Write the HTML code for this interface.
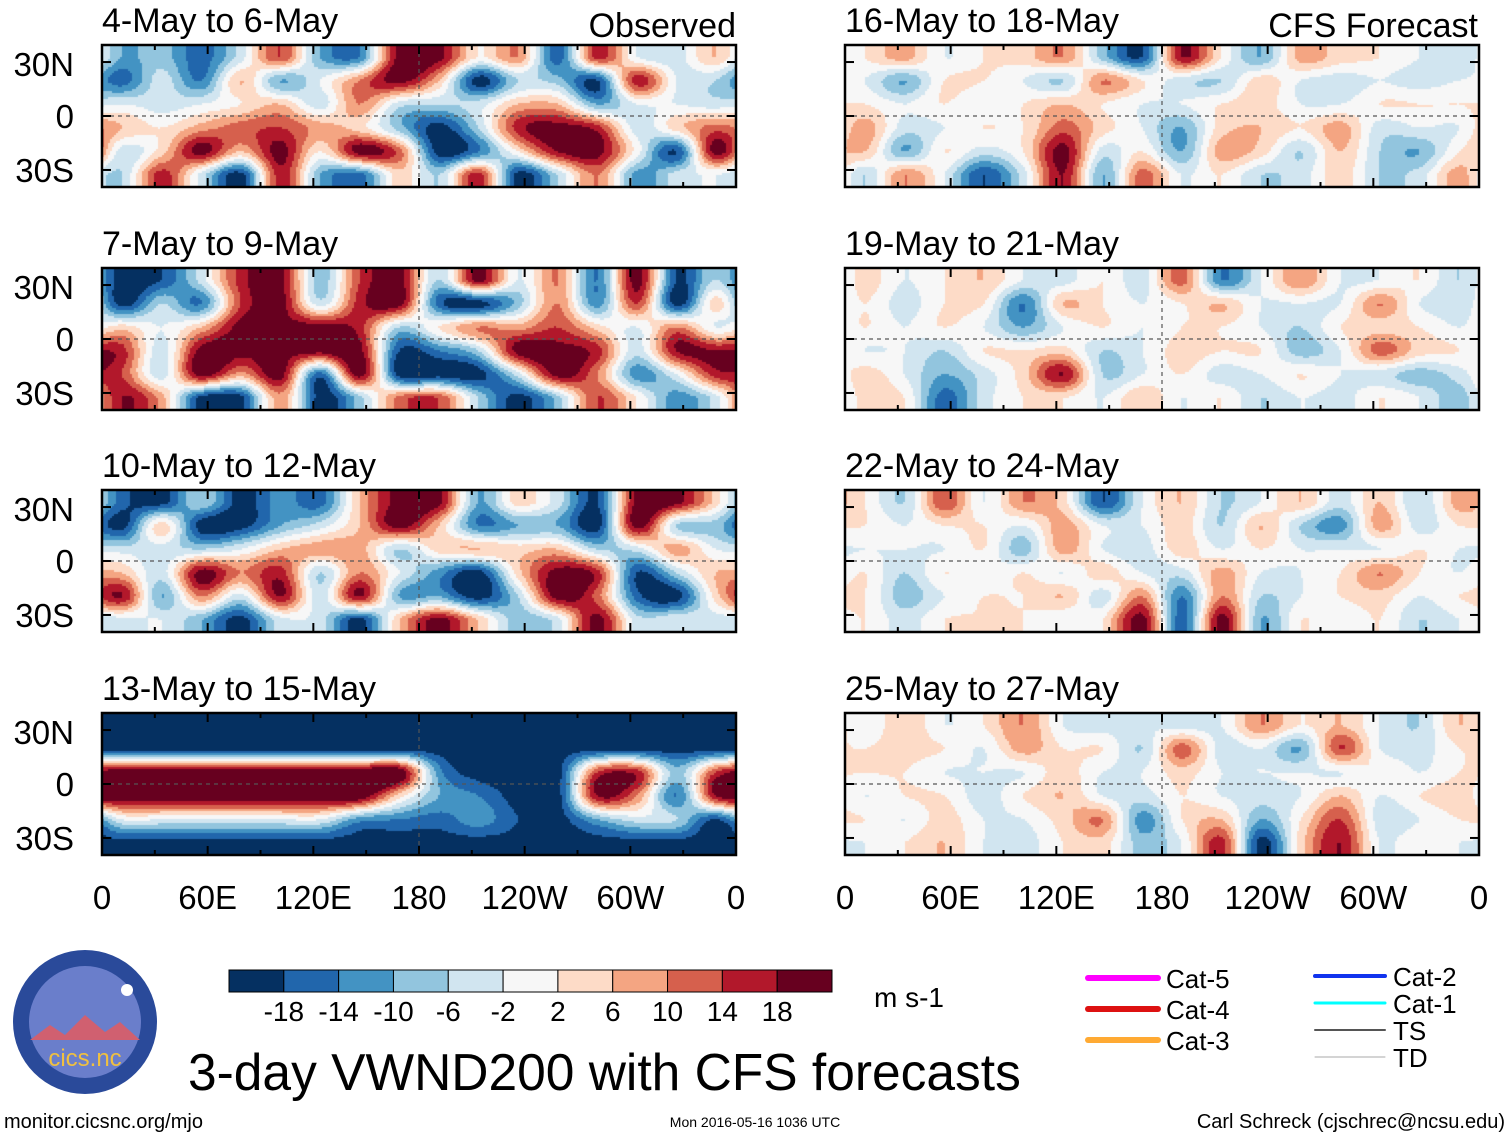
<!DOCTYPE html>
<html><head><meta charset="utf-8"><style>
body{margin:0;background:#fff;width:1510px;height:1137px;overflow:hidden;font-family:"Liberation Sans",sans-serif;position:relative}
#cv{position:absolute;left:0;top:0}
#fig{position:absolute;left:0;top:0}
svg text{font-family:"Liberation Sans",sans-serif}
</style></head><body>
<canvas id="cv" width="1510" height="1137"></canvas>
<svg id="fig" width="1510" height="1137">
<defs></defs>
</svg>
<script>
const NS='http://www.w3.org/2000/svg';
const svg=document.getElementById('fig');
const ctx=document.getElementById('cv').getContext('2d');
const panelTitles=['4-May to 6-May','7-May to 9-May','10-May to 12-May','13-May to 15-May','16-May to 18-May','19-May to 21-May','22-May to 24-May','25-May to 27-May'];
const lonLabels=['0','60E','120E','180','120W','60W','0'];
const latLabels=['30N','0','30S'];
const levels=[-18,-14,-10,-6,-2,2,6,10,14,18];
const colors=['#053061','#2166ac','#4393c3','#92c5de','#d1e5f0','#f7f7f7','#fddbc7','#f4a582','#d6604d','#b2182b','#67001f'];
const p1=[[-10,-8,-16,-4,14,-10,-14,20,20,2,10,-16,16,-2,-4,6],[-16,-4,-14,6,-10,-2,10,20,6,-20,-6,-8,-18,16,-2,-6],[-2,-4,-2,2,6,-4,10,-4,-6,-4,6,6,-10,-2,-2,-4],[6,2,8,12,14,8,4,-8,-20,-6,16,20,16,-4,4,12],[-4,4,20,6,20,2,20,12,-20,-14,2,18,20,0,-18,20],[-6,16,-4,-20,16,-10,-16,4,-6,16,-20,-6,10,-12,-4,-2]];
const p2=[[-20,-18,-4,16,20,-8,14,20,-6,20,-2,10,-14,20,-18,-6],[-20,-6,-14,14,20,-4,16,20,-16,-20,-8,10,-12,14,-20,4],[4,-2,6,20,20,20,16,-6,2,10,8,14,4,-2,10,-2],[16,-4,20,20,20,20,20,-18,-14,-6,20,20,16,-4,18,18],[14,-4,20,8,20,-16,20,-20,-20,-20,-4,20,10,-12,-2,16],[18,8,-20,-20,8,-20,-8,12,14,-6,-20,-8,14,2,-12,-4]];
const p3=[[-16,-20,-6,-20,-12,-16,6,20,20,-10,4,-4,-18,20,20,4],[-20,4,-20,-20,-10,-4,6,20,6,-14,-10,-10,-20,20,-6,-8],[-4,-4,-6,-2,6,8,8,-6,4,6,4,6,-6,-4,8,-2],[6,-4,20,10,16,-6,10,-2,-12,-20,4,20,16,-18,-6,6],[18,-10,10,-4,18,-4,18,-10,-10,-20,-6,20,12,-16,-20,4],[-4,-2,-10,-20,-4,-4,-20,6,20,6,-8,-4,20,-4,-2,-4]];
const p4=[[-20,-20,-20,-20,-20,-20,-20,-20,-20,-20,-20,-20,-20,-20,-20,-20],[-20,-20,-20,-20,-20,-20,-20,-20,-20,-20,-20,-20,-20,-20,-20,-20],[22,22,22,22,22,22,22,22,-12,-20,-20,-20,14,16,-8,14],[22,22,22,22,22,22,22,4,-10,-14,-20,-20,18,10,-14,18],[-2,-2,-2,-2,-2,-2,-12,-14,-16,-12,-18,-20,-10,-4,-6,-18],[-20,-20,-20,-20,-20,-20,-20,-20,-20,-20,-20,-20,-20,-20,-20,-20]];
const p5=[[2,8,-2,2,4,10,-8,-18,18,2,-10,8,4,2,-2,-4],[-2,-10,2,2,-2,-6,10,2,-4,-6,4,-2,-4,-2,-4,-2],[2,-2,2,-2,2,6,2,-2,-2,2,4,-2,-2,2,2,2],[8,-4,-2,2,2,12,4,-2,-10,4,6,2,8,-4,-2,-2],[6,-10,2,-4,2,20,-4,2,-10,8,4,-6,6,-6,-10,2],[-6,10,-2,-18,-4,18,-10,12,-2,2,-6,-4,4,-6,-4,8]];
const p6=[[4,-2,2,6,-2,-4,2,-4,12,-14,-2,10,-2,-2,2,-6],[2,-4,2,2,-14,6,2,-2,2,6,-2,-2,-2,10,-2,-4],[2,-2,2,-2,-10,-2,2,-2,2,2,-2,-6,2,4,2,-2],[-2,-2,-6,2,2,4,-6,-2,4,2,2,-8,-2,12,4,2],[4,-2,-10,-4,4,18,-6,-2,2,-4,-2,2,-2,-4,-8,-4],[4,2,-16,-4,2,2,-2,6,-2,2,-6,-2,-4,2,-2,-8]];
const p7=[[2,-6,14,-2,10,4,-18,-2,6,-6,-2,6,-4,6,-6,8],[2,-2,2,2,-2,8,-2,-2,4,-6,6,-6,-12,8,-4,2],[-2,-2,-2,2,-8,8,-2,-4,4,-2,2,-2,-2,-2,2,-2],[2,-6,2,-2,2,-2,4,-2,-4,8,-2,-2,2,10,2,-2],[2,-8,-2,2,2,6,-4,10,-14,10,-6,-2,2,4,-2,2],[2,-4,2,2,2,-2,2,20,-16,20,-10,2,-2,2,-6,-2]];
const p8=[[-2,6,-2,2,10,-2,-4,-2,-4,-2,10,2,6,-2,-6,6],[2,4,2,-2,8,2,2,-6,12,-4,-2,-10,14,-2,-4,2],[2,2,-2,-2,-2,4,-2,-2,4,-2,-2,-2,-2,2,-2,2],[-2,2,2,-4,2,6,-2,-4,2,-2,-4,-2,6,-2,2,4],[2,-2,4,-2,-2,4,10,-12,2,6,-10,2,14,-4,-2,2],[-2,2,6,-2,-4,2,4,-8,-2,16,-20,4,18,-2,2,-2]];
const grids=[p1,p2,p3,p4,p5,p6,p7,p8];
function colorOf(v){let i=0;while(i<levels.length&&v>levels[i])i++;return colors[i];}
function el(tag,attrs,parent){const e=document.createElementNS(NS,tag);for(const k in attrs)e.setAttribute(k,attrs[k]);(parent||svg).appendChild(e);return e;}
function txt(x,y,s,size,anchor,name){const t=el('text',{x:x,y:y,'font-size':size,'text-anchor':anchor||'start',fill:'#000'});t.textContent=s;return t;}
function cr(p0,p1,p2,p3,t){return 0.5*((2*p1)+(-p0+p2)*t+(2*p0-5*p1+4*p2-p3)*t*t+(-p0+3*p1-3*p2+p3)*t*t*t);}
function sample(g,u,v){const rows=g.length,cols=g[0].length;
 v=Math.max(0,Math.min(rows-1,v));const j=Math.min(rows-2,Math.floor(v)),fy=v-j;
 const i0=Math.floor(u),fx=u-i0;
 const rowVal=r=>{r=Math.max(0,Math.min(rows-1,r));const w=k=>g[r][((k%cols)+cols)%cols];return cr(w(i0-1),w(i0),w(i0+1),w(i0+2),fx);};
 return cr(rowVal(j-1),rowVal(j),rowVal(j+1),rowVal(j+2),fy);}
const lefts=[102,845],tops=[45,268,490,713],PW=634,PH=142,S=2;
grids.forEach((g,pi)=>{
 const x0=lefts[pi<4?0:1],y0=tops[pi%4];
 const cols=g[0].length,rows=g.length,cw=PW/cols,rh=PH/rows;
 for(let py=0;py<PH;py+=S)for(let px=0;px<PW;px+=S){
  const v=sample(g,(px+S/2)/cw-0.5,(py+S/2)/rh-0.5);
  ctx.fillStyle=colorOf(v);ctx.fillRect(x0+px,y0+py,S,S);
 }
 el('line',{x1:x0,x2:x0+PW,y1:y0+PH/2,y2:y0+PH/2,stroke:'#555','stroke-dasharray':'4,4','stroke-width':1.2});
 el('line',{x1:x0+PW/2,x2:x0+PW/2,y1:y0,y2:y0+PH,stroke:'#555','stroke-dasharray':'4,4','stroke-width':1.2});
 const fr=el('rect',{x:x0,y:y0,width:PW,height:PH,fill:'none',stroke:'#000','stroke-width':2.5});
 
 for(let i=0;i<=12;i++){const xx=x0+i*PW/12,l=i%2?5:9;el('line',{x1:xx,x2:xx,y1:y0,y2:y0+l,stroke:'#000','stroke-width':2});el('line',{x1:xx,x2:xx,y1:y0+PH,y2:y0+PH-l,stroke:'#000','stroke-width':2});}
 [0.12,0.5,0.88].forEach(f=>{const yy=y0+PH*f;el('line',{x1:x0,x2:x0+9,y1:yy,y2:yy,stroke:'#000','stroke-width':2});el('line',{x1:x0+PW,x2:x0+PW-9,y1:yy,y2:yy,stroke:'#000','stroke-width':2});});
 txt(x0,y0-13,panelTitles[pi],34,'start','panel-title');
 if(pi<4){latLabels.forEach((s,i)=>txt(74,y0+[31,83,137][i],s,33,'end','lat-label'));}
});
txt(736,37,'Observed',34,'end','observed-label');
txt(1478,37,'CFS Forecast',34,'end','cfs-forecast-label');
lefts.forEach(x0=>lonLabels.forEach((s,i)=>txt(x0+i*PW/6,909,s,33,'middle','lon-label')));
const cbx=229,cby=970,cbw=603/11;
colors.forEach((c,i)=>{const r=el('rect',{x:cbx+i*cbw,y:cby,width:cbw,height:22,fill:c,stroke:'#000','stroke-width':1});});
levels.forEach((v,i)=>txt(cbx+(i+1)*cbw,1021,String(v),28,'middle','colorbar-tick'));
txt(874,1007,'m s-1',28,'start','units-label');
txt(188,1090,'3-day VWND200 with CFS forecasts',51.5,'start','figure-title');
const leg=[['Cat-5','#ff00ff',1088,978,6],['Cat-4','#dd1111',1088,1009,6],['Cat-3','#ffaa33',1088,1040,6],['Cat-2','#1133ee',1315,976,4],['Cat-1','#00ffff',1315,1003,3],['TS','#555',1315,1030,2],['TD','#aaa',1315,1057,1]];
leg.forEach(l=>{const ln=el('line',{x1:l[2],x2:l[2]+70,y1:l[3],y2:l[3],stroke:l[1],'stroke-width':l[4],'stroke-linecap':'round'});txt(l[2]+78,l[3]+10,l[0],26,'start','legend-entry');});
const lg=el('g',{});
el('circle',{cx:85,cy:1022,r:72,fill:'#2a4a9a'},lg);
el('circle',{cx:85,cy:1022,r:56,fill:'#6a7ecb'},lg);
el('path',{d:'M30,1040 L50,1025 L65,1035 L85,1015 L105,1032 L120,1022 L140,1040 Z',fill:'#d06070'},lg);
el('circle',{cx:127,cy:990,r:6,fill:'#fff'},lg);
const lt=el('text',{x:85,y:1066,'font-size':24,'text-anchor':'middle',fill:'#f0c040'},lg);lt.textContent='cics.nc';
txt(4,1128,'monitor.cicsnc.org/mjo',20,'start','source-url');
txt(755,1127,'Mon 2016-05-16 1036 UTC',14,'middle','timestamp');
txt(1505,1128,'Carl Schreck (cjschrec@ncsu.edu)',20,'end','author-credit');
</script>
</body></html>
